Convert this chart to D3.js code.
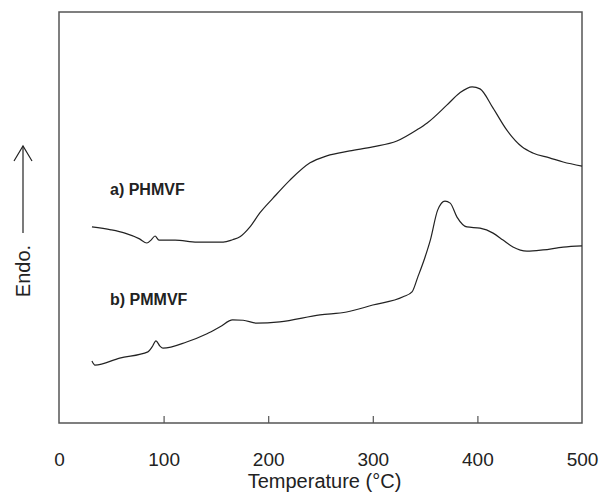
<!DOCTYPE html>
<html>
<head>
<meta charset="utf-8">
<script src="https://cdn.jsdelivr.net/npm/d3@7"></script>
<style>
  body { margin: 0; background: #fff; }
  text { font-family: "Liberation Sans", Arial, sans-serif; fill: #222; }
</style>
</head>
<body>
<svg id="chart" width="602" height="492"></svg>
<script>
// DSC traces (temperature in °C, heat flow in arbitrary units)
const tempA = [31.5, 49.7, 63, 77, 84, 88, 91.8, 95.6, 111, 132, 157, 166, 173, 182.6, 192, 204.6, 220.8, 240, 256, 278, 300, 323, 342, 352, 371, 383, 395, 402.5, 415, 428, 442.6, 453, 469, 482, 500];
const flowA = [47.7, 47.0, 46.2, 44.8, 43.8, 44.5, 45.5, 44.5, 44.5, 44.0, 44.0, 44.6, 45.3, 47.7, 51.1, 54.7, 59.1, 63.3, 65.0, 66.2, 67.2, 68.6, 71.3, 73.0, 77.4, 80.3, 81.8, 81.3, 76.6, 71.3, 67.2, 65.7, 64.5, 63.5, 62.5];

const tempB = [31.5, 34.4, 58, 85, 89, 92.7, 96.5, 99.4, 122, 141.5, 154, 166, 176, 189, 211, 249.5, 275, 300, 329, 337.5, 343, 350, 355, 362, 369, 374, 380.5, 390, 402.5, 415, 424.5, 434, 447.4, 462.7, 482, 500];
const flowB = [15.1, 14.1, 15.8, 17.3, 18.5, 20.0, 18.7, 18.2, 19.7, 21.7, 23.4, 25.1, 25.0, 24.3, 24.6, 26.3, 27.0, 28.7, 30.7, 31.9, 35.5, 40.4, 44.5, 51.8, 54.0, 53.5, 50.1, 47.7, 47.4, 46.2, 44.5, 42.8, 41.8, 42.1, 42.8, 43.1];

const xTicks = [0, 100, 200, 300, 400, 500];
const seriesNames = ["a) PHMVF", "b) PMMVF"];

const svg = d3.select("#chart");
const margin = { left: 59, right: 20, top: 12, bottom: 69 };
const W = 602, H = 492;

const x = d3.scaleLinear().domain([0, 500]).range([margin.left, W - margin.right]);
const y = d3.scaleLinear().domain([0, 100]).range([H - margin.bottom, margin.top]);

// frame
svg.append("rect")
  .attr("x", x(0)).attr("y", y(100))
  .attr("width", x(500) - x(0)).attr("height", y(0) - y(100))
  .attr("fill", "none").attr("stroke", "#555").attr("stroke-width", 1.5);

// bottom axis, ticks pointing inward
const xAxis = svg.append("g")
  .attr("transform", `translate(0,${y(0)})`)
  .call(d3.axisBottom(x).tickValues(xTicks).tickSizeInner(-7).tickSizeOuter(0).tickPadding(30));
xAxis.select(".domain").remove();
xAxis.selectAll(".tick line").attr("stroke", "#555").attr("stroke-width", 1.2)
  .filter(d => d === 0 || d === 500).remove();
xAxis.selectAll(".tick text")
  .attr("font-size", 19).attr("fill", "#222")
  .attr("font-family", "Liberation Sans, Arial, sans-serif");

svg.append("text")
  .attr("x", (x(0) + x(500)) / 2 + 4).attr("y", 488)
  .attr("text-anchor", "middle").attr("font-size", 20)
  .text("Temperature (°C)");

// y label with arrow
svg.append("text")
  .attr("transform", "translate(30,271) rotate(-90)")
  .attr("text-anchor", "middle").attr("font-size", 20)
  .text("Endo.");
svg.append("line")
  .attr("x1", 23).attr("x2", 23).attr("y1", 233).attr("y2", 146)
  .attr("stroke", "#222").attr("stroke-width", 1.2);
svg.append("path")
  .attr("d", "M14,161 L23,146 L32,161")
  .attr("fill", "none").attr("stroke", "#222").attr("stroke-width", 1.2);

// traces
const line = d3.line()
  .x(d => x(d[0]))
  .y(d => y(d[1]))
  .curve(d3.curveMonotoneX);

const traces = [d3.zip(tempA, flowA), d3.zip(tempB, flowB)];
svg.selectAll(".trace")
  .data(traces)
  .join("path")
  .attr("class", "trace")
  .attr("d", line)
  .attr("fill", "none")
  .attr("stroke", "#222")
  .attr("stroke-width", 1.2);

// series labels
svg.selectAll(".lbl")
  .data(seriesNames)
  .join("text")
  .attr("class", "lbl")
  .attr("x", 110)
  .attr("y", (d, i) => [195, 305][i])
  .attr("font-size", 16)
  .attr("font-weight", "bold")
  .text(d => d);
</script>
</body>
</html>
